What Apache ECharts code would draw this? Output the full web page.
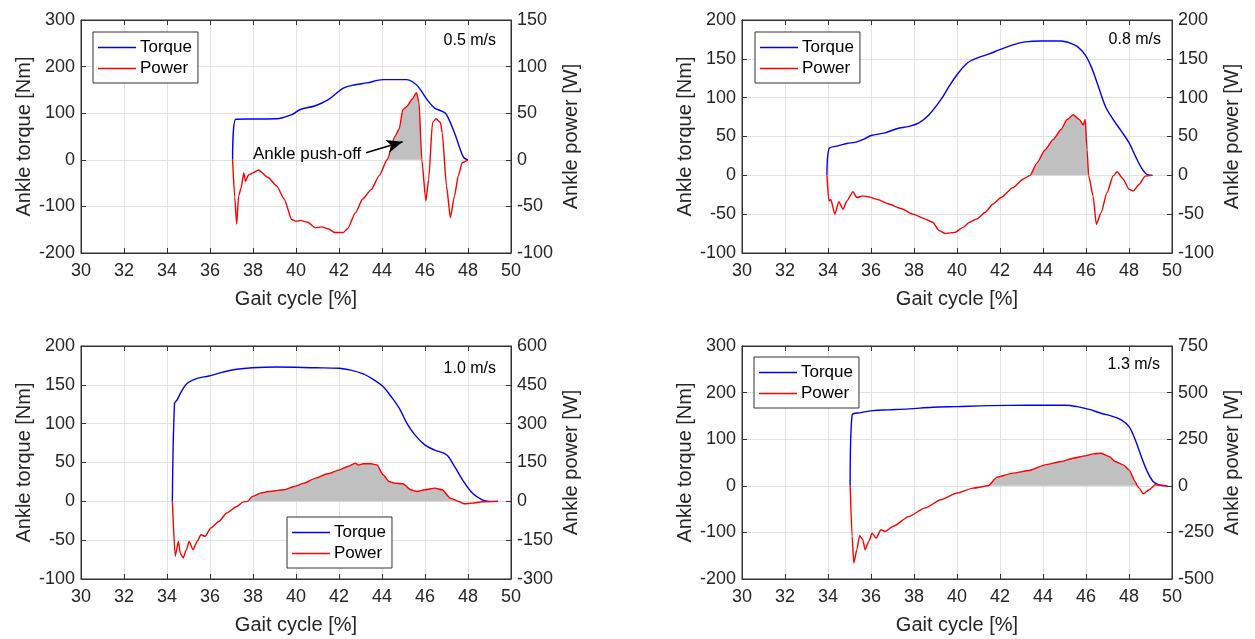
<!DOCTYPE html>
<html><head><meta charset="utf-8">
<script src="https://cdn.jsdelivr.net/npm/echarts@6/dist/echarts.min.js"></script>
<style>html,body{margin:0;padding:0;background:#fff}#c{width:1255px;height:639px}</style>
</head><body><div id="c"></div>
<script>
// ---------- data ----------
const speeds = ['0.5 m/s', '0.8 m/s', '1.0 m/s', '1.3 m/s'];
const gaitTicks = [30, 50, 2];
const torqueTicks = [[-200, 300, 100], [-100, 200, 50], [-100, 200, 50], [-200, 300, 100]];
const powerTicks = [[-100, 150, 50], [-100, 200, 50], [-300, 600, 150], [-500, 750, 250]];

const torque05 = [[37.05,0],[37.2,87],[38.0,87.5],[39.1,88],[39.8,97],[40.2,108],[40.9,116],[41.5,129],[42.2,154],[42.76,161],[43.3,165],[44.05,172],[45.15,172],[45.4,168],[45.7,156],[46.1,129],[46.45,111],[46.8,104],[47.0,97],[47.37,58],[47.64,22],[47.8,5],[48.0,0]];
const power05 = [[37.05,0],[37.15,-40],[37.24,-69],[37.33,-39],[37.45,-30],[37.57,-14],[37.65,-23],[37.8,-16],[38.0,-14],[38.25,-11],[38.7,-19],[39.1,-28],[39.45,-42],[39.8,-64],[40.0,-66],[40.2,-65],[40.55,-67],[40.9,-73],[41.2,-72],[41.5,-74],[41.8,-78],[42.2,-78],[42.4,-74],[42.76,-57],[43.1,-42],[43.5,-32],[43.87,-17],[44.24,0],[44.6,25],[44.8,33],[44.97,54],[45.15,57],[45.4,65],[45.6,72],[45.72,62],[45.85,0],[46.04,-44],[46.17,-21],[46.35,40],[46.52,44],[46.72,40],[46.8,29],[47.0,-28],[47.18,-62],[47.37,-39],[47.55,-17],[47.73,-3],[48.0,0]];

const torque08 = [[33.95,0],[34.04,34],[34.41,37.6],[34.88,41],[35.34,43],[35.7,47],[36.0,51.3],[36.65,54.7],[37.2,60],[37.77,63],[38.23,67.5],[38.7,78],[39.25,97.4],[39.63,114.5],[40.0,129.5],[40.47,144.4],[40.93,151],[41.5,156.4],[41.96,161.5],[42.6,168],[43.17,171.8],[43.9,173],[44.84,173],[45.2,171],[45.59,166],[45.96,155],[46.24,140],[46.52,119],[46.9,89],[47.26,72],[47.64,57],[48.0,42],[48.29,25],[48.57,10],[48.85,1],[49.09,0]];
const power08 = [[33.95,0],[34.04,-33],[34.13,-31],[34.32,-50],[34.5,-34],[34.7,-43.6],[34.88,-33],[35.16,-21],[35.34,-28.6],[35.62,-26.5],[35.9,-27.8],[36.28,-31],[36.83,-37],[37.4,-42.7],[37.95,-50],[38.5,-56],[38.88,-60.7],[39.16,-71],[39.44,-74.8],[39.9,-73.5],[40.28,-67],[40.56,-60.7],[40.93,-56],[41.3,-47.8],[41.68,-37],[42.05,-28.6],[42.6,-15.8],[43.07,-5],[43.4,0],[43.72,16],[44.1,33],[44.47,46],[44.84,59],[45.12,71.8],[45.4,78],[45.68,72],[45.87,65],[45.96,72],[46.05,33],[46.12,0],[46.33,-26.5],[46.48,-63],[46.7,-48],[46.98,-22],[47.26,-0.9],[47.45,4.7],[47.73,-5],[48.0,-18],[48.2,-20],[48.48,-11.5],[48.75,-1],[49.09,0]];

const torque10 = [[34.25,0],[34.35,126],[34.47,130.6],[34.66,141],[34.94,152],[35.4,158.4],[35.95,161.4],[36.5,165.7],[37.24,170],[37.97,172],[39.08,173],[40.9,172],[42.0,171.3],[42.55,169],[43.13,164],[43.68,155.4],[44.05,147.7],[44.42,135],[44.8,120],[45.16,100.5],[45.53,85.6],[45.99,72.7],[46.45,66],[47.0,60],[47.37,45],[47.74,28],[48.2,10.7],[48.66,2],[49.0,0],[49.4,0]];
const power10 = [[34.25,0],[34.38,-212],[34.53,-155],[34.62,-200],[34.75,-219],[34.9,-187],[35.03,-155],[35.21,-187],[35.4,-155],[35.58,-129],[35.77,-135],[36.04,-103],[36.41,-78],[36.78,-45],[37.24,-20],[37.55,-2],[37.75,0],[37.97,19],[38.34,31.7],[38.71,38],[39.45,44.6],[39.91,57.4],[40.37,70.3],[40.92,89.6],[41.47,106.3],[42.03,121.7],[42.4,134.6],[42.76,147.4],[42.9,140],[43.13,145],[43.5,145],[43.77,141],[44.05,102.4],[44.33,76.7],[44.6,70.3],[44.97,67.7],[45.34,44.6],[45.62,38],[45.99,44.6],[46.45,51],[46.8,44.6],[47.18,12.4],[47.55,0],[47.83,-9.4],[48.2,-6.9],[48.66,-1.7],[49.4,0]];

const torque13 = [[35.03,0],[35.12,152],[35.53,157],[36.09,161.4],[36.83,163],[37.77,165],[38.88,168.6],[40.0,170],[41.49,172],[43.35,172.9],[45.03,173],[45.59,170],[46.15,164],[46.7,155.7],[47.26,148.6],[47.64,141.4],[48.0,127],[48.29,98.6],[48.57,62.9],[48.85,30.7],[49.12,9.3],[49.4,2],[49.78,0]];
const power13 = [[35.03,0],[35.12,-271],[35.2,-414],[35.34,-343],[35.47,-268],[35.62,-289],[35.72,-343],[35.9,-298],[36.05,-254],[36.24,-280],[36.46,-236],[36.65,-245],[37.02,-218],[37.77,-164],[38.5,-120],[39.25,-75],[40.0,-39],[40.75,-12.5],[41.45,0],[41.86,46.4],[42.6,68],[43.35,82],[44.1,112.5],[44.84,130.4],[45.4,148.2],[45.96,160.7],[46.33,171.4],[46.7,175],[47.08,157],[47.35,130.4],[47.73,112.5],[48.0,85.7],[48.29,23.2],[48.38,0],[48.47,-12.5],[48.66,-42.9],[48.94,-21.4],[49.22,5.4],[49.5,1.8],[49.78,0]];

// positive-power (push-off) ranges that are shaded
const pushOff = [[44.24, 45.85], [43.4, 46.12], [37.75, 47.55], [41.45, 48.38]];
// arrow annotation (panel 1), in data units [gait %, power W]
const arrowFrom = [43.26, 7.6];
const arrowTo = [44.96, 19.4];

const torques = [torque05, torque08, torque10, torque13];
const powers = [power05, power08, power10, power13];

// ---------- layout ----------
const FONT = '"Liberation Sans", Arial, Helvetica, sans-serif';
const TXT = '#262626';
const grids = [
  {left: 81, top: 20, width: 430, height: 233},
  {left: 742, top: 20, width: 430, height: 233},
  {left: 81, top: 346, width: 430, height: 233},
  {left: 742, top: 346, width: 430, height: 233}
];
const legendPos = [{left: 93, top: 32}, {left: 755, top: 32}, {left: 287, top: 517}, {left: 754, top: 357}];
const speedPos = [[496, 41], [1161, 40], [496, 369], [1160, 365]];

const axisLine = {show: true, onZero: false, lineStyle: {color: '#333', width: 1}};
const tick = {show: true, inside: true, length: 5, lineStyle: {color: '#333'}};

const xAxis = [], yAxis = [], series = [], legend = [], graphic = [];
const topAxes = [];
grids.forEach((g, i) => {
  xAxis.push({
    type: 'value', gridIndex: i, min: gaitTicks[0], max: gaitTicks[1], interval: gaitTicks[2],
    name: 'Gait cycle [%]', nameLocation: 'middle', nameGap: 36,
    nameTextStyle: {fontFamily: FONT, fontSize: 20, color: TXT},
    axisLine, axisTick: tick,
    axisLabel: {fontFamily: FONT, fontSize: 18, color: TXT, margin: 9},
    splitLine: {show: true, lineStyle: {color: '#e2e2e2', width: 1}}
  });
  topAxes.push({
    type: 'value', gridIndex: i, position: 'top', min: gaitTicks[0], max: gaitTicks[1], interval: gaitTicks[2],
    axisLine, axisTick: tick, axisLabel: {show: false}, splitLine: {show: false}
  });
  const t = torqueTicks[i], p = powerTicks[i];
  yAxis.push({
    type: 'value', gridIndex: i, position: 'left', min: t[0], max: t[1], interval: t[2],
    name: 'Ankle torque [Nm]', nameLocation: 'middle', nameGap: 47,
    nameTextStyle: {fontFamily: FONT, fontSize: 20, color: TXT},
    axisLine, axisTick: tick,
    axisLabel: {fontFamily: FONT, fontSize: 18, color: TXT, margin: 6},
    splitLine: {show: true, lineStyle: {color: '#e2e2e2', width: 1}}
  });
  yAxis.push({
    type: 'value', gridIndex: i, position: 'right', min: p[0], max: p[1], interval: p[2],
    name: 'Ankle power [W]', nameLocation: 'middle', nameGap: 50,
    nameTextStyle: {fontFamily: FONT, fontSize: 20, color: TXT},
    axisLine, axisTick: tick,
    axisLabel: {fontFamily: FONT, fontSize: 18, color: TXT, margin: 6},
    splitLine: {show: false}
  });
  const fill = powers[i].filter(d => d[0] >= pushOff[i][0] && d[0] <= pushOff[i][1]);
  series.push({
    name: 'push-off ' + i, type: 'line', xAxisIndex: i, yAxisIndex: 2 * i + 1,
    data: fill, showSymbol: false, symbol: 'none', silent: true, z: 1,
    smooth: 0.2, smoothMonotone: 'x',
    lineStyle: {width: 0}, areaStyle: {color: '#c0c0c0', opacity: 1, origin: 0}
  });
  series.push({
    name: 'Torque', type: 'line', xAxisIndex: i, yAxisIndex: 2 * i,
    data: torques[i], showSymbol: false, symbol: 'none', smooth: 0.35, z: 3,
    lineStyle: {color: '#0000ff', width: 1.4}, itemStyle: {color: '#0000ff'}
  });
  const pw = {
    name: 'Power', type: 'line', xAxisIndex: i, yAxisIndex: 2 * i + 1,
    data: powers[i], showSymbol: false, symbol: 'none', smooth: 0.2, smoothMonotone: 'x', z: 4,
    lineStyle: {color: '#ff0000', width: 1.4}, itemStyle: {color: '#ff0000'}
  };
  if (i === 0) {
    pw.markLine = {
      silent: true, symbol: ['none', 'arrow'], symbolSize: [10, 16],
      lineStyle: {color: '#000', width: 1.4, type: 'solid'},
      label: {show: true, position: 'start', formatter: 'Ankle push-off', fontFamily: FONT, fontSize: 17, color: '#000', distance: 5},
      data: [[{coord: arrowFrom}, {coord: arrowTo}]]
    };
  }
  series.push(pw);
  legend.push({
    left: legendPos[i].left, top: legendPos[i].top, orient: 'vertical',
    data: ['Torque', 'Power'], itemWidth: 38, itemHeight: 1.5, itemGap: 4,
    padding: [7, 6, 6, 5], backgroundColor: '#fff', borderColor: '#333', borderWidth: 1,
    borderRadius: 0, selectedMode: false, icon: 'rect',
    textStyle: {fontFamily: FONT, fontSize: 17, color: '#000', padding: [0, 0, 0, -1]}
  });
  graphic.push({
    type: 'text', x: speedPos[i][0], y: speedPos[i][1], z: 10,
    style: {text: speeds[i], fontFamily: FONT, fontSize: 16, fill: '#000', textAlign: 'right', textVerticalAlign: 'middle'}
  });
});

const chart = echarts.init(document.getElementById('c'), null, {renderer: 'canvas'});
chart.setOption({
  animation: false,
  backgroundColor: '#fff',
  grid: grids.map(g => Object.assign({show: true, borderColor: '#333', borderWidth: 1, backgroundColor: 'transparent', containLabel: false}, g)),
  xAxis: xAxis.concat(topAxes), yAxis, series, legend, graphic
});
</script></body></html>
